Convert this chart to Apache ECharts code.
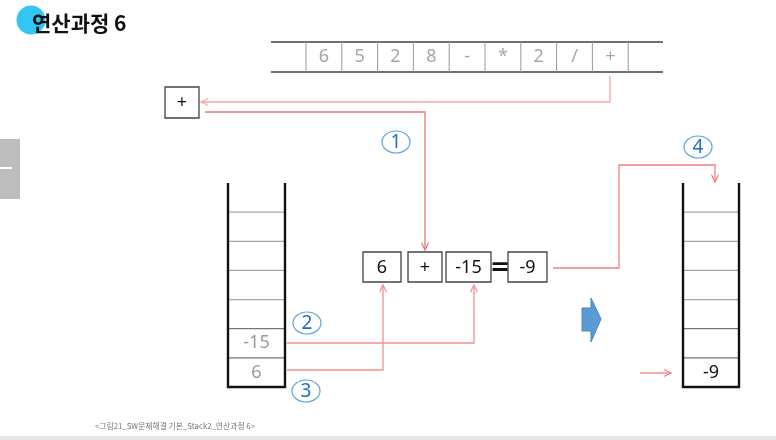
<!DOCTYPE html>
<html>
<head>
<meta charset="utf-8">
<script src="https://cdn.jsdelivr.net/npm/echarts@6.0.0/dist/echarts.min.js"></script>
<style>
  html, body { margin: 0; padding: 0; background: #fff; }
  #chart { width: 776px; height: 440px; }
</style>
</head>
<body>
<div id="chart"></div>
<script>
// 데이터
const title = '연산과정 6';
const caption = '<그림21_SW문제해결 기본_Stack2_연산과정 6>';
const tokens = ['6', '5', '2', '8', '-', '*', '2', '/', '+'];
const operator = '+';
const leftStack = ['6', '-15'];      // 아래부터
const rightStack = ['-9'];
const exprTerms = ['6', '+', '-15'];
const exprResult = '-9';
const steps = ['1', '2', '3', '4'];

// 레이아웃 (픽셀 단위, 축 = 화면 좌표)
const W = 776, H = 440;
const KR = '"Noto Sans CJK KR", "Noto Sans", sans-serif';
const tape = { x0: 271, x1: 663, y0: 42, y1: 72, c0: 306, cw: 35.8 };
const stackBox = [
  { x: 228, w: 57, vals: leftStack, color: '#9a9a9a' },
  { x: 683, w: 56, vals: rightStack, color: '#111' }
];
const stackTop = 183, stackBottom = 387, stackCells = 7;
const opBox = { x: 165, y: 87, w: 34, h: 31 };
const exprBoxes = [
  { x: 363, w: 38 }, { x: 408, w: 34 }, { x: 446, w: 45 }, { x: 508, w: 39 }
];
const exprY = 252, exprH = 30;
const routes = [
  { pts: [[610, 76], [610, 102], [201, 102]], color: '#f5a9a9' },
  { pts: [[205, 112], [425, 112], [425, 250]], color: '#e87878' },
  { pts: [[287, 343], [474, 343], [474, 285]], color: '#f09090' },
  { pts: [[287, 370], [383, 370], [383, 285]], color: '#f09090' },
  { pts: [[553, 268], [619, 268], [619, 165], [715, 165], [715, 182]], color: '#ee8080' },
  { pts: [[640, 373], [671, 373]], color: '#ee8080' }
];
const stepPos = [[396, 142], [307, 323], [306, 391], [698, 147]];
const blockArrow = [[582, 308], [591, 308], [591, 298], [601, 319], [591, 342], [591, 331], [582, 331]];

function P(api, x, y) { return api.coord([x, y]); }

function txt(api, s, x, y, font, fill, align) {
  const p = P(api, x, y);
  return {
    type: 'text',
    style: {
      text: s, x: p[0], y: p[1], font: font, fill: fill,
      textAlign: align || 'center', textVerticalAlign: 'middle',
      align: align || 'center', verticalAlign: 'middle'
    }
  };
}
function seg(api, x1, y1, x2, y2, stroke, lw) {
  const a = P(api, x1, y1), b = P(api, x2, y2);
  return { type: 'line', shape: { x1: a[0], y1: a[1], x2: b[0], y2: b[1] }, style: { stroke: stroke, lineWidth: lw || 1 } };
}
function box(api, x, y, w, h, stroke, lw) {
  const a = P(api, x, y), b = P(api, x + w, y + h);
  return { type: 'rect', shape: { x: a[0], y: a[1], width: b[0] - a[0], height: b[1] - a[1] },
    style: { fill: '#fff', stroke: stroke, lineWidth: lw || 1.2 } };
}

function renderDeco(params, api) {
  const a = P(api, 0, 436), b = P(api, W, H);
  const t0 = P(api, 0, 139), t1 = P(api, 20, 199);
  const c = P(api, 31, 20);
  return { type: 'group', children: [
    { type: 'rect', shape: { x: a[0], y: a[1], width: b[0] - a[0], height: b[1] - a[1] }, style: { fill: '#e6e6e6' } },
    { type: 'rect', shape: { x: t0[0], y: t0[1], width: t1[0] - t0[0], height: t1[1] - t0[1] }, style: { fill: '#bdbdbd' } },
    seg(api, 0, 168, 12, 168, '#fff', 2),
    { type: 'circle', shape: { cx: c[0], cy: c[1], r: 14.5 }, style: { fill: '#33c6f4' } },
    txt(api, title, 32, 23, 'bold 21px ' + KR, '#111', 'left'),
    txt(api, caption, 95, 426, '7.8px ' + KR, '#777', 'left')
  ] };
}

function renderTape(params, api) {
  const i = params.dataIndex;
  const children = [];
  if (i === 0) {
    children.push(seg(api, tape.x0, tape.y0, tape.x1, tape.y0, '#6f6f6f', 2));
    children.push(seg(api, tape.x0, tape.y1, tape.x1, tape.y1, '#6f6f6f', 2));
    children.push(seg(api, tape.c0, tape.y0, tape.c0, tape.y1, '#999', 1));
  }
  const xr = tape.c0 + (i + 1) * tape.cw;
  children.push(seg(api, xr, tape.y0, xr, tape.y1, '#999', 1));
  children.push(txt(api, tokens[i], tape.c0 + (i + 0.5) * tape.cw, (tape.y0 + tape.y1) / 2,
    '18px "Noto Sans", sans-serif', '#a6a6a6'));
  return { type: 'group', children: children };
}

function renderStack(params, api) {
  const s = stackBox[params.dataIndex];
  const ch = (stackBottom - stackTop) / stackCells;
  const children = [];
  for (let k = 1; k < stackCells; k++) {
    const y = stackTop + k * ch;
    children.push(seg(api, s.x, y, s.x + s.w, y, k >= stackCells - 2 ? '#777' : '#a5a5a5', 1.2));
  }
  s.vals.forEach(function (v, k) {
    children.push(txt(api, v, s.x + s.w / 2, stackBottom - (k + 0.5) * ch,
      '18px "Noto Sans", sans-serif', s.color));
  });
  const p0 = P(api, s.x, stackTop), p1 = P(api, s.x, stackBottom),
        p2 = P(api, s.x + s.w, stackBottom), p3 = P(api, s.x + s.w, stackTop);
  children.push({ type: 'polyline', shape: { points: [p0, p1, p2, p3] },
    style: { stroke: '#111', lineWidth: 2.4, fill: null } });
  return { type: 'group', children: children };
}

function renderExpr(params, api) {
  const i = params.dataIndex;
  const b = exprBoxes[i];
  const label = i < exprTerms.length ? exprTerms[i] : exprResult;
  const children = [
    box(api, b.x, exprY, b.w, exprH, '#444', 1.3),
    txt(api, label, b.x + b.w / 2, exprY + exprH / 2 + 1, '18px "Noto Sans", sans-serif', '#111')
  ];
  if (i === exprBoxes.length - 1) {
    children.push(txt(api, '=', 500, exprY + exprH / 2 + 2, 'bold 24px "DejaVu Sans", sans-serif', '#111'));
  }
  return { type: 'group', children: children };
}

function renderOp(params, api) {
  return { type: 'group', children: [
    box(api, opBox.x, opBox.y, opBox.w, opBox.h, '#444', 1.3),
    txt(api, operator, opBox.x + opBox.w / 2, opBox.y + opBox.h / 2, '18px "Noto Sans", sans-serif', '#111')
  ] };
}

function renderRoute(params, api) {
  const r = routes[params.dataIndex];
  const pts = r.pts.map(function (q) { return P(api, q[0], q[1]); });
  const e = pts[pts.length - 1], s = pts[pts.length - 2];
  const ang = Math.atan2(e[1] - s[1], e[0] - s[0]);
  const L = 8, spread = 0.45;
  const w1 = [e[0] - L * Math.cos(ang - spread), e[1] - L * Math.sin(ang - spread)];
  const w2 = [e[0] - L * Math.cos(ang + spread), e[1] - L * Math.sin(ang + spread)];
  return { type: 'group', children: [
    { type: 'polyline', shape: { points: pts }, style: { stroke: r.color, lineWidth: 1.3, fill: null } },
    { type: 'polyline', shape: { points: [w1, e, w2] }, style: { stroke: r.color, lineWidth: 1.2, fill: null } }
  ] };
}

function renderStep(params, api) {
  const q = stepPos[params.dataIndex];
  const c = P(api, q[0], q[1]);
  return { type: 'group', children: [
    { type: 'ellipse', shape: { cx: c[0], cy: c[1], rx: 14, ry: 11 }, style: { fill: '#fff', stroke: '#5aa5dc', lineWidth: 1.2 } },
    txt(api, steps[params.dataIndex], q[0], q[1] + 1, '19px "Noto Sans", sans-serif', '#1f6fc0')
  ] };
}

function renderBlock(params, api) {
  const pts = blockArrow.map(function (q) { return P(api, q[0], q[1]); });
  return { type: 'polygon', shape: { points: pts }, style: { fill: '#5b9bd5', stroke: '#4a86c0', lineWidth: 1 } };
}

function mk(name, n, fn, z) {
  const data = [];
  for (let i = 0; i < n; i++) data.push([i, 0]);
  return { type: 'custom', name: name, coordinateSystem: 'cartesian2d', renderItem: fn, data: data, z: z || 2, silent: true };
}

const chart = echarts.init(document.getElementById('chart'), null, { renderer: 'canvas' });
chart.setOption({
  animation: false,
  backgroundColor: '#fff',
  grid: { left: 0, right: 0, top: 0, bottom: 0 },
  xAxis: { type: 'value', min: 0, max: W, show: false },
  yAxis: { type: 'value', min: 0, max: H, inverse: true, show: false },
  series: [
    mk('deco', 1, renderDeco, 1),
    mk('tape', tokens.length, renderTape, 2),
    mk('routes', routes.length, renderRoute, 3),
    mk('stacks', stackBox.length, renderStack, 4),
    mk('op', 1, renderOp, 4),
    mk('expr', exprBoxes.length, renderExpr, 4),
    mk('steps', steps.length, renderStep, 5),
    mk('block', 1, renderBlock, 5)
  ]
});
</script>
</body>
</html>
